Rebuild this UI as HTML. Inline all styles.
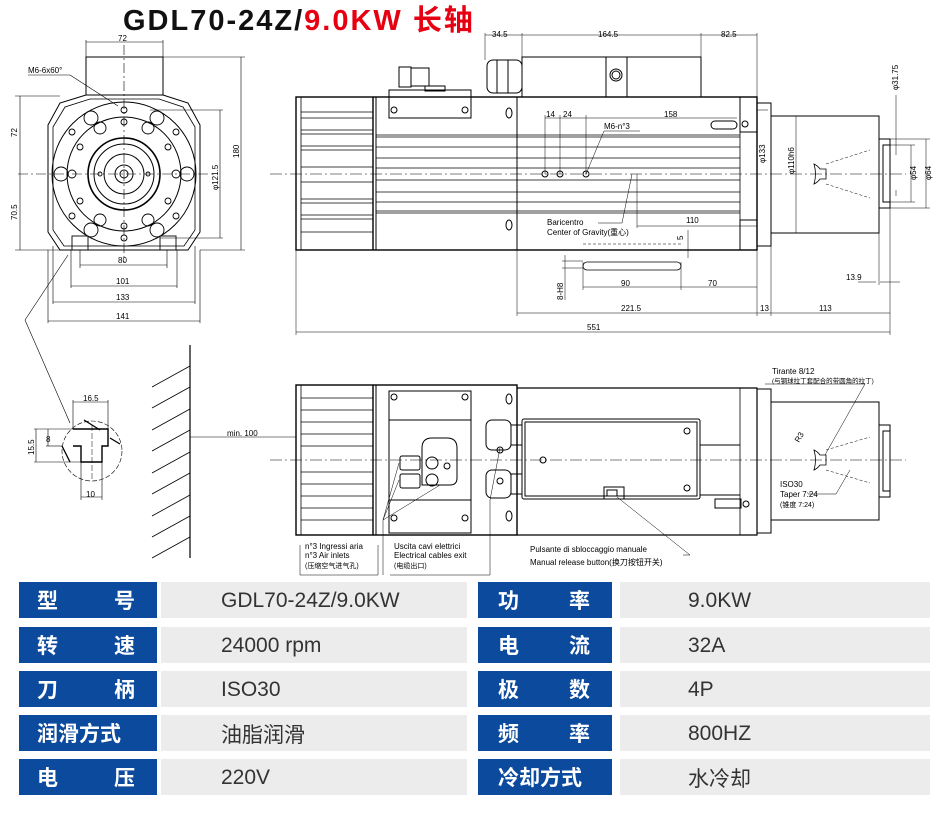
<!DOCTYPE html>
<html><head><meta charset="utf-8"><style>
html,body{margin:0;padding:0;background:#fff;}
body{width:946px;height:824px;position:relative;overflow:hidden;font-family:"Liberation Sans","Noto Sans CJK SC",sans-serif;}
svg{position:absolute;left:0;top:0;}
.t{font-family:"Liberation Sans","Noto Sans CJK SC",sans-serif;}
.title{position:absolute;left:123px;top:4px;font-weight:bold;font-size:29px;line-height:34px;letter-spacing:2px;white-space:nowrap;}
.lab{position:absolute;background:#0b4a9d;color:#fff;font-weight:bold;font-size:21px;display:flex;align-items:center;justify-content:space-between;box-sizing:border-box;font-family:"Liberation Sans","Noto Sans CJK SC",sans-serif;}
.val{position:absolute;background:#ececec;color:#333;font-size:21px;display:flex;align-items:center;box-sizing:border-box;padding-top:2px;font-family:"Liberation Sans","Noto Sans CJK SC",sans-serif;}
</style></head><body>
<div class="title"><span style="color:#111">GDL70-24Z/</span><span style="color:#e60012">9.0KW 长轴</span></div>
<svg width="946" height="580" viewBox="0 0 946 580" stroke="#000" fill="none" stroke-width="1">
<!-- LEFT FRONT VIEW -->
<g>
<rect x="86" y="57" width="77" height="38"/>
<polygon points="86,95 163,95 188,103 200,125 200,232 188,250 60,250 48,232 48,125 60,103"/>
<polygon points="90,99 159,99 183,107 195,127 195,230 184,246 64,246 53,230 53,127 65,107" stroke-width="0.8"/>
<circle cx="124" cy="174" r="72"/>
<circle cx="124" cy="174" r="57"/>
<circle cx="124" cy="174" r="36" stroke-width="1.6"/>
<circle cx="124" cy="174" r="30"/>
<circle cx="124" cy="174" r="20"/>
<circle cx="124" cy="174" r="9"/>
<circle cx="124" cy="174" r="4"/>
<g stroke-width="0.9">
<circle cx="124" cy="110" r="3"/><circle cx="124" cy="122" r="3"/><circle cx="124" cy="226" r="3"/><circle cx="124" cy="238" r="3"/>
<circle cx="61" cy="174" r="7"/><circle cx="72" cy="174" r="4"/><circle cx="187" cy="174" r="7"/><circle cx="176" cy="174" r="4"/>
<circle cx="91" cy="118" r="7"/><circle cx="157" cy="118" r="7"/><circle cx="91" cy="230" r="7"/><circle cx="157" cy="230" r="7"/>
<circle cx="72" cy="132" r="3"/><circle cx="176" cy="132" r="3"/><circle cx="72" cy="216" r="3"/><circle cx="176" cy="216" r="3"/>
<circle cx="100" cy="128" r="6"/><circle cx="148" cy="128" r="6"/><circle cx="100" cy="220" r="6"/><circle cx="148" cy="220" r="6"/>
<circle cx="80" cy="147" r="3"/><circle cx="168" cy="147" r="3"/><circle cx="80" cy="201" r="3"/><circle cx="168" cy="201" r="3"/>
<circle cx="100" cy="174" r="2"/><circle cx="148" cy="174" r="2"/>
<rect x="72" y="236" width="16" height="14"/><rect x="160" y="236" width="16" height="14"/>
</g>
<g stroke-width="0.6">
<line x1="18" y1="174" x2="212" y2="174" stroke-dasharray="10,3,2,3"/>
<line x1="124" y1="45" x2="124" y2="262" stroke-dasharray="10,3,2,3"/>
<line x1="86" y1="42" x2="163" y2="42"/><line x1="86" y1="40" x2="86" y2="57"/><line x1="163" y1="40" x2="163" y2="57"/>
<line x1="163" y1="57" x2="245" y2="57"/><line x1="200" y1="250" x2="245" y2="250"/><line x1="241" y1="57" x2="241" y2="250"/>
<line x1="150" y1="110" x2="223" y2="110"/><line x1="160" y1="238" x2="223" y2="238"/><line x1="220" y1="110" x2="220" y2="238"/>
<line x1="15" y1="96" x2="60" y2="96"/><line x1="15" y1="250" x2="60" y2="250"/><line x1="20" y1="96" x2="20" y2="250"/>
<line x1="80" y1="265" x2="167" y2="265"/><line x1="80" y1="250" x2="80" y2="268"/><line x1="167" y1="250" x2="167" y2="268"/>
<line x1="71" y1="286" x2="177" y2="286"/><line x1="71" y1="250" x2="71" y2="288"/><line x1="177" y1="250" x2="177" y2="288"/>
<line x1="53" y1="302" x2="195" y2="302"/><line x1="53" y1="246" x2="53" y2="304"/><line x1="195" y1="246" x2="195" y2="304"/>
<line x1="48" y1="321" x2="200" y2="321"/><line x1="48" y1="250" x2="48" y2="323"/><line x1="200" y1="250" x2="200" y2="323"/>
<line x1="28" y1="75" x2="70" y2="75"/><line x1="70" y1="75" x2="118" y2="106"/>
<line x1="68" y1="255" x2="25" y2="320"/><line x1="25" y1="320" x2="70" y2="423"/>
</g>
<g class="t" fill="#000" stroke="none" font-size="8">
<text x="118" y="41">72</text>
<text x="28" y="73">M6-6x60°</text>
<text x="118" y="263">80</text><text x="116" y="284">101</text><text x="116" y="300">133</text><text x="116" y="319">141</text>
<text transform="translate(17,137) rotate(-90)">72</text>
<text transform="translate(17,220) rotate(-90)">70.5</text>
<text transform="translate(218,190) rotate(-90)">φ121.5</text>
<text transform="translate(239,158) rotate(-90)">180</text>
</g>
</g>
<!-- T-SLOT DETAIL AND WALL -->
<g stroke-width="0.9">
<circle cx="92" cy="451" r="30" stroke-dasharray="5,2" stroke-width="0.6"/>
<polyline points="73,429 108,429 108,446 102,446 102,462 81,462 81,446 73,446" stroke-width="1.4"/>
<line x1="92" y1="425" x2="92" y2="480" stroke-dasharray="6,2" stroke-width="0.5"/>
<line x1="84" y1="420" x2="100" y2="430" stroke-width="1.3"/><line x1="110" y1="438" x2="120" y2="444" stroke-width="1.3"/>
<line x1="62" y1="446" x2="70" y2="462" stroke-width="1.3"/>
<g stroke-width="0.6">
<line x1="73" y1="402" x2="108" y2="402"/><line x1="73" y1="400" x2="73" y2="429"/><line x1="108" y1="400" x2="108" y2="429"/>
<line x1="34" y1="429" x2="73" y2="429"/><line x1="34" y1="462" x2="81" y2="462"/><line x1="36" y1="429" x2="36" y2="462"/>
<line x1="48" y1="429" x2="48" y2="446"/><line x1="46" y1="446" x2="62" y2="446"/>
<line x1="81" y1="462" x2="81" y2="500"/><line x1="102" y1="462" x2="102" y2="500"/><line x1="81" y1="497" x2="102" y2="497"/>
</g>
<line x1="190" y1="345" x2="190" y2="558" stroke-width="1.2"/>
<g stroke-width="0.8">
<line x1="152" y1="387" x2="190" y2="366"/><line x1="152" y1="408" x2="190" y2="387"/><line x1="152" y1="430" x2="190" y2="409"/>
<line x1="152" y1="451" x2="190" y2="430"/><line x1="152" y1="473" x2="190" y2="452"/><line x1="152" y1="494" x2="190" y2="473"/>
<line x1="152" y1="516" x2="190" y2="495"/><line x1="152" y1="537" x2="190" y2="516"/><line x1="152" y1="558" x2="190" y2="537"/>
</g>
<line x1="190" y1="437" x2="296" y2="437" stroke-width="0.6"/>
<g class="t" fill="#000" stroke="none" font-size="8">
<text x="83" y="401">16.5</text><text x="46" y="442">8</text><text transform="translate(34,455) rotate(-90)">15.5</text>
<text x="86" y="497">10</text><text x="227" y="436">min. 100</text>
</g>
</g>
<!-- TOP SIDE VIEW -->
<g>
<rect x="296" y="97" width="461" height="153" stroke-width="1.4"/>
<line x1="373" y1="97" x2="373" y2="250" stroke-width="1.4"/><line x1="376" y1="97" x2="376" y2="250"/>
<line x1="517" y1="97" x2="517" y2="250"/>
<line x1="740" y1="97" x2="740" y2="250" stroke-width="0.8"/>
<g stroke-width="0.8">
<line x1="301" y1="97" x2="301" y2="250"/>
<line x1="301" y1="112" x2="373" y2="112"/><line x1="301" y1="118" x2="373" y2="118"/><line x1="301" y1="130" x2="373" y2="130"/><line x1="301" y1="134" x2="373" y2="134"/><line x1="301" y1="146" x2="373" y2="146"/><line x1="301" y1="150" x2="373" y2="150"/><line x1="301" y1="167" x2="373" y2="167"/>
<line x1="301" y1="182" x2="373" y2="182"/><line x1="301" y1="199" x2="373" y2="199"/><line x1="301" y1="203" x2="373" y2="203"/><line x1="301" y1="215" x2="373" y2="215"/><line x1="301" y1="219" x2="373" y2="219"/><line x1="301" y1="232" x2="373" y2="232"/>
<line x1="376" y1="135" x2="740" y2="135"/><line x1="376" y1="137" x2="740" y2="137"/><line x1="376" y1="147" x2="740" y2="147"/><line x1="376" y1="158" x2="740" y2="158"/><line x1="376" y1="168" x2="740" y2="168"/>
<line x1="376" y1="180" x2="740" y2="180"/><line x1="376" y1="192" x2="740" y2="192"/><line x1="376" y1="202" x2="740" y2="202"/><line x1="376" y1="211" x2="740" y2="211"/><line x1="376" y1="213" x2="740" y2="213"/>
</g>
<rect x="389" y="90" width="82" height="28"/>
<rect x="399" y="67" width="12" height="20"/><rect x="411" y="68" width="18" height="18"/><rect x="425" y="86" width="20" height="5"/>
<circle cx="394" cy="110" r="3"/><circle cx="465" cy="110" r="3"/>
<rect x="522" y="57" width="179" height="40"/><line x1="606" y1="57" x2="606" y2="97"/><line x1="627" y1="57" x2="627" y2="97"/>
<circle cx="616" cy="75" r="6"/><circle cx="616" cy="75" r="4"/>
<rect x="487" y="60" width="35" height="33" rx="6"/><line x1="497" y1="60" x2="497" y2="93"/><line x1="508" y1="60" x2="508" y2="93"/>
<ellipse cx="509" cy="113" rx="3" ry="5"/><ellipse cx="509" cy="225" rx="3" ry="5"/>
<circle cx="545" cy="174" r="3"/><circle cx="560" cy="174" r="3"/><circle cx="586" cy="174" r="3"/>
<rect x="711" y="121" width="26" height="8" rx="4"/><circle cx="745" cy="124" r="3"/>
<rect x="740" y="97" width="17" height="35"/><rect x="740" y="220" width="17" height="30"/>
<rect x="757" y="103" width="14" height="143"/>
<rect x="771" y="116" width="108" height="117"/>
<rect x="879" y="139" width="11" height="69"/><rect x="883" y="145" width="7" height="57"/>
<path d="M814,164 q4,2 6,5 h6 v10 h-6 q-2,3 -6,5 q3,-10 0,-20z" stroke-width="0.8"/>
<g stroke-width="0.5">
<line x1="826" y1="164" x2="870" y2="150" stroke-dasharray="3,2"/><line x1="826" y1="184" x2="870" y2="198" stroke-dasharray="3,2"/>
<line x1="270" y1="174" x2="906" y2="174" stroke-dasharray="12,3,2,3"/>
<line x1="485" y1="35" x2="757" y2="35"/><line x1="485" y1="33" x2="485" y2="60"/><line x1="522" y1="33" x2="522" y2="57"/><line x1="701" y1="33" x2="701" y2="57"/><line x1="757" y1="33" x2="757" y2="97"/>
<line x1="296" y1="250" x2="296" y2="335"/><line x1="890" y1="208" x2="890" y2="335"/><line x1="296" y1="332" x2="890" y2="332"/>
<line x1="517" y1="250" x2="517" y2="316"/><line x1="517" y1="313" x2="890" y2="313"/><line x1="757" y1="250" x2="757" y2="316"/><line x1="771" y1="246" x2="771" y2="316"/>
<line x1="583" y1="262" x2="583" y2="290"/><line x1="681" y1="262" x2="681" y2="290"/><line x1="583" y1="287" x2="757" y2="287"/>
<rect x="583" y="262" width="98" height="8" rx="4" stroke-width="0.8"/>
<line x1="583" y1="244" x2="681" y2="244" stroke-dasharray="3,2"/>
<line x1="562" y1="261" x2="583" y2="261"/><line x1="562" y1="268" x2="583" y2="268"/><line x1="565" y1="255" x2="565" y2="300"/>
<line x1="688" y1="230" x2="688" y2="258"/>
<line x1="545" y1="115" x2="545" y2="174"/><line x1="560" y1="115" x2="560" y2="174"/><line x1="586" y1="115" x2="586" y2="174"/><line x1="545" y1="118" x2="737" y2="118"/>
<line x1="586" y1="174" x2="604" y2="131"/><line x1="604" y1="131" x2="640" y2="131"/>
<line x1="632" y1="174" x2="622" y2="223"/><line x1="598" y1="223" x2="622" y2="223"/>
<line x1="637" y1="174" x2="637" y2="228"/><line x1="637" y1="226" x2="757" y2="226"/>
<line x1="858" y1="282" x2="876" y2="282"/><line x1="879" y1="233" x2="879" y2="285"/><line x1="880" y1="282" x2="900" y2="282"/>
<line x1="879" y1="139" x2="930" y2="139"/><line x1="879" y1="208" x2="930" y2="208"/><line x1="926" y1="139" x2="926" y2="208"/>
<line x1="890" y1="145" x2="915" y2="145"/><line x1="890" y1="202" x2="915" y2="202"/><line x1="911" y1="145" x2="911" y2="202"/>
<line x1="896" y1="95" x2="896" y2="155"/><line x1="896" y1="190" x2="896" y2="196"/>
<line x1="796" y1="116" x2="796" y2="233"/><line x1="757" y1="110" x2="768" y2="110"/>
</g>
<g class="t" fill="#000" stroke="none" font-size="8">
<text x="492" y="37">34.5</text><text x="598" y="37">164.5</text><text x="721" y="37">82.5</text>
<text x="546" y="117">14</text><text x="563" y="117">24</text><text x="664" y="117">158</text>
<text x="604" y="129">M6-n°3</text>
<text x="547" y="225">Baricentro</text><text x="547" y="235">Center of Gravity(重心)</text>
<text x="686" y="223">110</text><text transform="translate(683,240) rotate(-90)">5</text>
<text x="621" y="286">90</text><text x="708" y="286">70</text>
<text transform="translate(563,300) rotate(-90)">8-H8</text>
<text x="621" y="311">221.5</text><text x="760" y="311">13</text><text x="819" y="311">113</text>
<text x="587" y="330">551</text><text x="846" y="280">13.9</text>
<text transform="translate(765,163) rotate(-90)">φ133</text>
<text transform="translate(794,174) rotate(-90)">φ110h6</text>
<text transform="translate(898,90) rotate(-90)">φ31.75</text>
<text transform="translate(916,180) rotate(-90)">φ54</text>
<text transform="translate(931,180) rotate(-90)">φ64</text>
</g>
</g>
<!-- BOTTOM SIDE VIEW -->
<g>
<rect x="296" y="385" width="221" height="150" stroke-width="1.4"/>
<line x1="373" y1="385" x2="373" y2="535" stroke-width="1.4"/><line x1="376" y1="385" x2="376" y2="535"/>
<rect x="389" y="391" width="82" height="142"/>
<line x1="389" y1="420" x2="471" y2="420"/><line x1="389" y1="500" x2="471" y2="500"/>
<g stroke-width="0.8">
<line x1="301" y1="385" x2="301" y2="535"/>
<line x1="301" y1="398" x2="373" y2="398"/><line x1="301" y1="410" x2="373" y2="410"/><line x1="301" y1="422" x2="373" y2="422"/><line x1="301" y1="434" x2="373" y2="434"/><line x1="301" y1="446" x2="373" y2="446"/>
<line x1="301" y1="472" x2="373" y2="472"/><line x1="301" y1="484" x2="373" y2="484"/><line x1="301" y1="496" x2="373" y2="496"/><line x1="301" y1="508" x2="373" y2="508"/><line x1="301" y1="520" x2="373" y2="520"/>
</g>
<circle cx="394" cy="397" r="3"/><circle cx="465" cy="397" r="3"/><circle cx="394" cy="518" r="3"/><circle cx="465" cy="518" r="3"/>
<path d="M422,448 q0,-10 10,-10 h15 q10,0 10,10 v30 q0,7 -7,7 h-28 z"/>
<rect x="400" y="456" width="20" height="14" rx="2"/><rect x="400" y="474" width="20" height="14" rx="2"/>
<circle cx="432" cy="463" r="6"/><circle cx="432" cy="480" r="6"/><circle cx="447" cy="466" r="3"/>
<ellipse cx="509" cy="399" rx="3" ry="5"/><ellipse cx="509" cy="516" rx="3" ry="5"/>
<polyline points="517,388 757,388 757,535 517,535" stroke-width="1.2"/>
<line x1="740" y1="388" x2="740" y2="535" stroke-width="0.8"/><line x1="700" y1="445" x2="740" y2="445"/><line x1="700" y1="495" x2="740" y2="495"/>
<rect x="522" y="419" width="178" height="80" rx="2"/><rect x="525" y="422" width="172" height="74"/>
<rect x="604" y="487" width="20" height="12"/><rect x="607" y="490" width="10" height="6"/>
<circle cx="687" cy="431" r="3"/><circle cx="687" cy="488" r="3"/><circle cx="543" cy="460" r="3"/>
<rect x="486" y="420" width="25" height="30" rx="6"/><rect x="486" y="470" width="25" height="28" rx="6"/>
<rect x="511" y="425" width="11" height="20"/><rect x="511" y="474" width="11" height="20"/>
<circle cx="500" cy="450" r="3"/><circle cx="500" cy="481" r="3"/>
<rect x="715" y="499" width="26" height="9"/><circle cx="746" cy="504" r="3"/>
<rect x="757" y="389" width="14" height="144"/>
<rect x="771" y="402" width="108" height="118"/>
<rect x="879" y="425" width="11" height="72"/><rect x="883" y="431" width="7" height="60"/>
<path d="M814,450 q4,2 6,5 h6 v10 h-6 q-2,3 -6,5 q3,-10 0,-20z" stroke-width="0.8"/>
<g stroke-width="0.5">
<line x1="826" y1="450" x2="870" y2="437" stroke-dasharray="3,2"/><line x1="826" y1="470" x2="870" y2="483" stroke-dasharray="3,2"/>
<line x1="270" y1="460" x2="906" y2="460" stroke-dasharray="12,3,2,3"/>
<line x1="300" y1="545" x2="300" y2="575"/><line x1="300" y1="575" x2="378" y2="575"/><line x1="378" y1="545" x2="378" y2="575"/>
<line x1="383" y1="520" x2="399" y2="463"/><line x1="383" y1="520" x2="399" y2="480"/><line x1="383" y1="520" x2="440" y2="485"/><line x1="383" y1="520" x2="383" y2="575"/>
<line x1="490" y1="575" x2="490" y2="500"/><line x1="490" y1="500" x2="500" y2="448"/><line x1="390" y1="575" x2="490" y2="575"/>
<line x1="617" y1="497" x2="690" y2="555"/><line x1="683" y1="555" x2="690" y2="555"/>
<line x1="765" y1="384" x2="865" y2="384"/><line x1="865" y1="384" x2="825" y2="455"/>
<line x1="836" y1="494" x2="850" y2="470"/><line x1="808" y1="494" x2="836" y2="494"/>
</g>
<g class="t" fill="#000" stroke="none" font-size="8">
<text x="772" y="374">Tirante 8/12</text>
<text x="772" y="383" font-size="6.5">(与钢球拉丁套配合的带圆角的拉丁)</text>
<text transform="translate(799,443) rotate(-60)">R3</text>
<text x="780" y="487">ISO30</text><text x="780" y="497">Taper 7:24</text><text x="780" y="507" font-size="7">(锥度  7:24)</text>
<text x="305" y="549">n°3 Ingressi aria</text><text x="305" y="558">n°3 Air inlets</text><text x="305" y="568" font-size="7">(压缩空气进气孔)</text>
<text x="394" y="549">Uscita cavi elettrici</text><text x="394" y="558">Electrical cables exit</text><text x="394" y="568" font-size="7">(电缆出口)</text>
<text x="530" y="552">Pulsante di sbloccaggio manuale</text><text x="530" y="565">Manual release button(换刀按钮开关)</text>
</g>
</g>
</svg>
<!-- TABLE -->
<div class="lab" style="left:19px;top:582px;width:138px;height:36px;padding:0 22px 0 18px;"><span>型</span><span>号</span></div>
<div class="val" style="left:161px;top:582px;width:306px;height:36px;padding-left:60px;">GDL70-24Z/9.0KW</div>
<div class="lab" style="left:478px;top:582px;width:134px;height:36px;padding:0 22px 0 20px;"><span>功</span><span>率</span></div>
<div class="val" style="left:620px;top:582px;width:310px;height:36px;padding-left:68px;">9.0KW</div>

<div class="lab" style="left:19px;top:627px;width:138px;height:36px;padding:0 22px 0 18px;"><span>转</span><span>速</span></div>
<div class="val" style="left:161px;top:627px;width:306px;height:36px;padding-left:60px;">24000 rpm</div>
<div class="lab" style="left:478px;top:627px;width:134px;height:36px;padding:0 22px 0 20px;"><span>电</span><span>流</span></div>
<div class="val" style="left:620px;top:627px;width:310px;height:36px;padding-left:68px;">32A</div>

<div class="lab" style="left:19px;top:671px;width:138px;height:36px;padding:0 22px 0 18px;"><span>刀</span><span>柄</span></div>
<div class="val" style="left:161px;top:671px;width:306px;height:36px;padding-left:60px;">ISO30</div>
<div class="lab" style="left:478px;top:671px;width:134px;height:36px;padding:0 22px 0 20px;"><span>极</span><span>数</span></div>
<div class="val" style="left:620px;top:671px;width:310px;height:36px;padding-left:68px;">4P</div>

<div class="lab" style="left:19px;top:715px;width:138px;height:36px;padding:0 0 0 18px;justify-content:flex-start;"><span>润滑方式</span></div>
<div class="val" style="left:161px;top:715px;width:306px;height:36px;padding-left:60px;">油脂润滑</div>
<div class="lab" style="left:478px;top:715px;width:134px;height:36px;padding:0 22px 0 20px;"><span>频</span><span>率</span></div>
<div class="val" style="left:620px;top:715px;width:310px;height:36px;padding-left:68px;">800HZ</div>

<div class="lab" style="left:19px;top:759px;width:138px;height:36px;padding:0 22px 0 18px;"><span>电</span><span>压</span></div>
<div class="val" style="left:161px;top:759px;width:306px;height:36px;padding-left:60px;">220V</div>
<div class="lab" style="left:478px;top:759px;width:134px;height:36px;padding:0 0 0 20px;justify-content:flex-start;"><span>冷却方式</span></div>
<div class="val" style="left:620px;top:759px;width:310px;height:36px;padding-left:68px;">水冷却</div>
</body></html>
